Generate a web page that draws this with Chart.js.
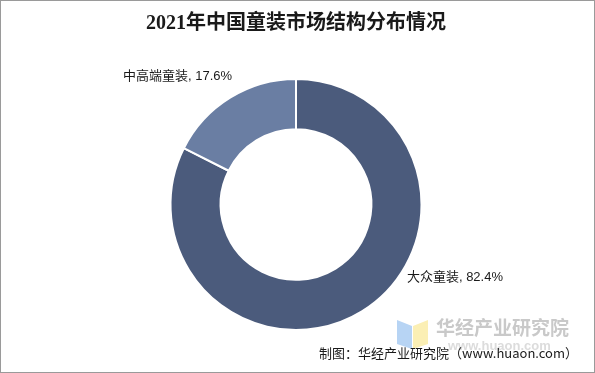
<!DOCTYPE html>
<html>
<head>
<meta charset="utf-8">
<script src="https://cdn.jsdelivr.net/npm/chart.js@4"></script>
<style>
  html, body { margin: 0; padding: 0; background: #fff; }
  #wrap { width: 595px; height: 373px; position: relative; }
</style>
</head>
<body>
<div id="wrap"><canvas id="myChart" width="595" height="373"></canvas></div>
<script>
const categories = ['大众童装', '中高端童装'];
const shares = [82.4, 17.6];
const sliceColors = ['#4b5b7c', '#6a7ea3'];

// label offsets from the slice's outer edge midpoint (px), matching the picture
const labelOffsets = [
    { dx: 45, dy: -34, align: 'left' },
    { dx: 2, dy: -21, align: 'right' }
];

const sliceLabels = {
    id: 'sliceLabels',
    afterDatasetsDraw(chart) {
        const ctx = chart.ctx;
        const meta = chart.getDatasetMeta(0);
        ctx.save();
        ctx.font = '13px Arial, "Liberation Sans", "Noto Sans CJK SC", sans-serif';
        ctx.fillStyle = '#1a1a1a';
        ctx.textBaseline = 'middle';
        meta.data.forEach(function(arc, i) {
            const mid = (arc.startAngle + arc.endAngle) / 2;
            const x = arc.x + Math.cos(mid) * arc.outerRadius + labelOffsets[i].dx;
            const y = arc.y + Math.sin(mid) * arc.outerRadius + labelOffsets[i].dy;
            ctx.textAlign = labelOffsets[i].align;
            ctx.fillText(categories[i] + ', ' + shares[i].toFixed(1) + '%', x, y);
        });
        ctx.restore();
    }
};

const frameAndSource = {
    id: 'frameAndSource',
    afterDraw(chart) {
        const ctx = chart.ctx;
        ctx.save();
        // watermark logo
        ctx.fillStyle = '#b7d4f4';
        ctx.beginPath();
        ctx.moveTo(397, 320); ctx.lineTo(412, 326); ctx.lineTo(412, 349); ctx.lineTo(397, 344);
        ctx.closePath(); ctx.fill();
        ctx.fillStyle = '#fbefb4';
        ctx.beginPath();
        ctx.moveTo(413, 326); ctx.lineTo(428, 320); ctx.lineTo(428, 344); ctx.lineTo(413, 349);
        ctx.closePath(); ctx.fill();
        // watermark text
        ctx.fillStyle = '#c9c9c9';
        ctx.textAlign = 'left';
        ctx.textBaseline = 'middle';
        ctx.font = 'bold 19px "Noto Sans CJK SC", sans-serif';
        ctx.fillText('华经产业研究院', 436, 328);
        ctx.fillStyle = '#dcdcdc';
        ctx.font = 'bold 13px Arial, sans-serif';
        ctx.fillText('www.huaon.com', 448, 346);
        // source
        ctx.fillStyle = '#1a1a1a';
        ctx.font = '13px "Noto Sans CJK SC", Arial, sans-serif';
        ctx.textAlign = 'right';
        ctx.fillText('制图：华经产业研究院（www.huaon.com）', 578, 353);
        // frame
        ctx.strokeStyle = '#9a9a9a';
        ctx.lineWidth = 1;
        ctx.strokeRect(0.5, 0.5, 594, 372);
        ctx.restore();
    }
};

const ctx = document.getElementById('myChart').getContext('2d');
new Chart(ctx, {
    type: 'doughnut',
    data: {
        labels: categories,
        datasets: [{
            data: shares,
            backgroundColor: sliceColors,
            borderColor: '#ffffff',
            borderWidth: 2
        }]
    },
    options: {
        responsive: false,
        animation: false,
        cutout: '60%',
        layout: { padding: { top: 0, bottom: 42, left: 0, right: 3 } },
        plugins: {
            legend: { display: false },
            tooltip: { enabled: false },
            title: {
                display: true,
                text: '2021年中国童装市场结构分布情况',
                color: '#1a1a1a',
                font: { family: '"Liberation Serif", "Noto Sans CJK SC", serif', size: 20, weight: 'bold' },
                padding: { top: 12, bottom: 42 }
            }
        }
    },
    plugins: [sliceLabels, frameAndSource]
});
</script>
</body>
</html>
